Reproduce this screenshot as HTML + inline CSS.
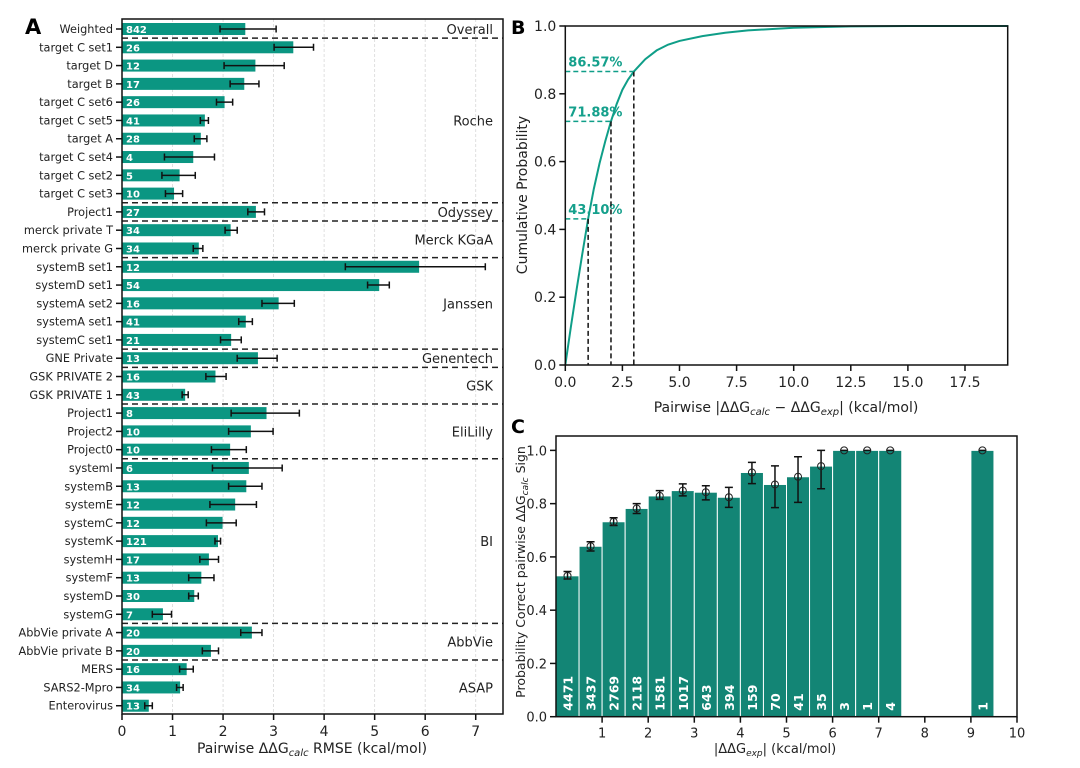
<!DOCTYPE html>
<html><head><meta charset="utf-8"><style>
html,body{margin:0;padding:0;background:#fff;width:1080px;height:768px;overflow:hidden}
svg{display:block;font-family:"DejaVu Sans","Liberation Sans",sans-serif}
</style></head><body>
<svg id="fig" width="1080" height="768" viewBox="0 0 1080 768" xmlns="http://www.w3.org/2000/svg"></svg>
<script>
// ---- Panel A data ----
const aLabels=["Weighted","target C set1","target D","target B","target C set6","target C set5","target A","target C set4","target C set2","target C set3","Project1","merck private T","merck private G","systemB set1","systemD set1","systemA set2","systemA set1","systemC set1","GNE Private","GSK PRIVATE 2","GSK PRIVATE 1","Project1","Project2","Project0","systemI","systemB","systemE","systemC","systemK","systemH","systemF","systemD","systemG","AbbVie private A","AbbVie private B","MERS","SARS2-Mpro","Enterovirus"];
const aValues=[2.44,3.39,2.64,2.42,2.03,1.64,1.56,1.41,1.14,1.03,2.65,2.15,1.52,5.88,5.09,3.10,2.45,2.16,2.69,1.85,1.25,2.86,2.55,2.14,2.51,2.46,2.24,1.99,1.90,1.72,1.57,1.43,0.81,2.57,1.76,1.28,1.15,0.53];
const aErrLo=[1.94,3.01,2.02,2.14,1.87,1.55,1.43,0.84,0.79,0.86,2.49,2.04,1.41,4.42,4.86,2.77,2.31,1.95,2.28,1.66,1.19,2.16,2.11,1.77,1.79,2.11,1.74,1.67,1.84,1.54,1.32,1.32,0.60,2.35,1.59,1.14,1.08,0.45];
const aErrHi=[3.05,3.79,3.21,2.71,2.19,1.71,1.68,1.83,1.45,1.20,2.82,2.28,1.60,7.19,5.29,3.41,2.58,2.36,3.07,2.06,1.31,3.51,2.99,2.46,3.17,2.77,2.66,2.26,1.95,1.91,1.82,1.51,0.98,2.77,1.91,1.41,1.21,0.60];
const aCounts=[842,26,12,17,26,41,28,4,5,10,27,34,34,12,54,16,41,21,13,16,43,8,10,10,6,13,12,12,121,17,13,30,7,20,20,16,34,13];
const aGroups=["Overall","Roche","Odyssey","Merck KGaA","Janssen","Genentech","GSK","EliLilly","BI","AbbVie","ASAP"];
const aGroupStart=[0,1,10,11,13,18,19,21,24,33,35];
const aGroupEnd=[0,9,10,12,17,18,20,23,32,34,37];
const aTicks=[0,1,2,3,4,5,6,7];
// ---- Panel B data ----
const bX=[0,0.25,0.5,0.75,1,1.25,1.5,1.75,2,2.25,2.5,2.75,3,3.5,4,4.5,5,6,7,8,10,12.5,15,19.4];
const bY=[0,0.115,0.225,0.33,0.431,0.52,0.595,0.66,0.7188,0.77,0.812,0.842,0.8657,0.902,0.928,0.945,0.956,0.970,0.980,0.987,0.995,0.999,1,1];
const bMarkX=[1,2,3];
const bMarkY=[0.431,0.7188,0.8657];
const bMarkLbl=["43.10%","71.88%","86.57%"];
const bXTicks=[0,2.5,5,7.5,10,12.5,15,17.5];
const bYTicks=[0,0.2,0.4,0.6,0.8,1.0];
// ---- Panel C data ----
const cCenters=[0.25,0.75,1.25,1.75,2.25,2.75,3.25,3.75,4.25,4.75,5.25,5.75,6.25,6.75,7.25,9.25];
const cValues=[0.529,0.640,0.732,0.782,0.829,0.849,0.843,0.824,0.917,0.872,0.901,0.941,1,1,1,1];
const cErrLo=[0.517,0.622,0.718,0.763,0.816,0.829,0.814,0.786,0.875,0.785,0.805,0.856,1,1,1,1];
const cErrHi=[0.545,0.657,0.747,0.800,0.849,0.874,0.867,0.861,0.955,0.942,0.976,1.0,1,1,1,1];
const cCounts=[4471,3437,2769,2118,1581,1017,643,394,159,70,41,35,3,1,4,1];
const cXTicks=[1,2,3,4,5,6,7,8,9,10];
const cYTicks=[0,0.2,0.4,0.6,0.8,1.0];

const NS="http://www.w3.org/2000/svg";
const svg=document.getElementById('fig');
function el(tag,attrs,parent,text){const e=document.createElementNS(NS,tag);for(const k in attrs)e.setAttribute(k,attrs[k]);if(text!==undefined)e.textContent=text;(parent||svg).appendChild(e);return e;}

// ===== Panel A =====
const A={l:122,r:503,t:19,b:714,xmax:7.54};
const ax=v=>A.l+v/A.xmax*(A.r-A.l);
const ay=i=>29+i*18.29;
const gA=el('g',{});


aTicks.forEach(t=>{if(t>0){const g=el('line',{x1:ax(t),x2:ax(t),y1:A.t,y2:A.b,stroke:'#d8d8d8','stroke-width':0.8,'stroke-dasharray':'3,2'},gA);}});
aValues.forEach((v,i)=>{
  const r=el('rect',{x:ax(0),y:ay(i)-6,width:ax(v)-ax(0),height:12,fill:'#0b9682'},gA);
  
  
  const n=el('text',{x:ax(0)+4,y:ay(i)+4,fill:'#fff','font-size':10,'font-weight':'bold'},gA,String(aCounts[i]));
  
  const e=el('path',{d:`M${ax(aErrLo[i])},${ay(i)}H${ax(aErrHi[i])}M${ax(aErrLo[i])},${ay(i)-3.5}v7M${ax(aErrHi[i])},${ay(i)-3.5}v7`,stroke:'#111','stroke-width':1.5,fill:'none'},gA);
  
  el('line',{x1:A.l-6,x2:A.l,y1:ay(i),y2:ay(i),stroke:'#111','stroke-width':1.5},gA);
  const lb=el('text',{x:A.l-9,y:ay(i)+4,'text-anchor':'end','font-size':11.3,fill:'#222'},gA,aLabels[i]);
  
});
aGroups.forEach((g,k)=>{
  if(k>0){const yy=ay(aGroupStart[k])-9.15;const s=el('line',{x1:A.l,x2:A.r,y1:yy,y2:yy,stroke:'#222','stroke-width':1.5,'stroke-dasharray':'6,4'},gA);}
  const yc=(ay(aGroupStart[k])+ay(aGroupEnd[k]))/2;
  const t=el('text',{x:A.r-10,y:yc+5,'text-anchor':'end','font-size':13,fill:'#222'},gA,g);
  
});
el('rect',{x:A.l,y:A.t,width:A.r-A.l,height:A.b-A.t,fill:'none',stroke:'#111','stroke-width':1.5},gA);
aTicks.forEach(t=>{el('line',{x1:ax(t),x2:ax(t),y1:A.b,y2:A.b+6,stroke:'#111','stroke-width':1.5},gA);const tx=el('text',{x:ax(t),y:A.b+22,'text-anchor':'middle','font-size':14,fill:'#222'},gA,String(t));});
const axA=el('text',{x:312,y:753,'text-anchor':'middle','font-size':14,fill:'#222'},gA);

axA.innerHTML='Pairwise ΔΔG<tspan font-size="10" font-style="italic" dy="3">calc</tspan><tspan dy="-3"> RMSE (kcal/mol)</tspan>';
const pa=el('text',{x:25,y:34,'font-size':21,'font-weight':'bold',fill:'#000'},gA,'A');

// ===== Panel B =====
const B={l:565.3,r:1007.7,t:26,b:365,xmax:19.37};
const bx=v=>B.l+v/B.xmax*(B.r-B.l);
const by=v=>B.b-v*(B.b-B.t);
const gB=el('g',{});


const cdf=el('polyline',{points:bX.map((x,i)=>bx(x)+','+by(bY[i])).join(' '),fill:'none',stroke:'#0f9e88','stroke-width':2},gB);

bMarkX.forEach((x,i)=>{
  const v=el('line',{x1:bx(x),x2:bx(x),y1:by(bMarkY[i]),y2:B.b,stroke:'#111','stroke-width':1.5,'stroke-dasharray':'5,3'},gB);
  
  const h=el('line',{x1:B.l,x2:bx(x),y1:by(bMarkY[i]),y2:by(bMarkY[i]),stroke:'#0f9e88','stroke-width':1.5,'stroke-dasharray':'5,3'},gB);
  
  const t=el('text',{x:B.l+3,y:by(bMarkY[i])-5,'font-size':13,'font-weight':'bold',fill:'#15a08c'},gB,bMarkLbl[i]);
  
});
el('rect',{x:B.l,y:B.t,width:B.r-B.l,height:B.b-B.t,fill:'none',stroke:'#111','stroke-width':1.5},gB);
bXTicks.forEach(t=>{el('line',{x1:bx(t),x2:bx(t),y1:B.b,y2:B.b+6,stroke:'#111','stroke-width':1.5},gB);const tx=el('text',{x:bx(t),y:B.b+22,'text-anchor':'middle','font-size':14,fill:'#222'},gB,t.toFixed(1));});
bYTicks.forEach(t=>{el('line',{x1:B.l-6,x2:B.l,y1:by(t),y2:by(t),stroke:'#111','stroke-width':1.5},gB);const tx=el('text',{x:B.l-9,y:by(t)+5,'text-anchor':'end','font-size':14,fill:'#222'},gB,t.toFixed(1));});
const bxt=el('text',{x:786,y:412,'text-anchor':'middle','font-size':14,fill:'#222'},gB);

bxt.innerHTML='Pairwise |ΔΔG<tspan font-size="10" font-style="italic" dy="3">calc</tspan><tspan dy="-3"> − ΔΔG</tspan><tspan font-size="10" font-style="italic" dy="3">exp</tspan><tspan dy="-3">| (kcal/mol)</tspan>';
const byt=el('text',{x:0,y:0,'text-anchor':'middle','font-size':14,fill:'#222',transform:'translate(527,195) rotate(-90)'},gB,'Cumulative Probability');

const pb=el('text',{x:511,y:34,'font-size':19,'font-weight':'bold',fill:'#000'},gB,'B');

// ===== Panel C =====
const C={l:556,r:1017,t:436,b:716.7,xmax:10,ymax:1.054};
const cx=v=>C.l+v/C.xmax*(C.r-C.l);
const cy=v=>C.b-v/C.ymax*(C.b-C.t);
const gC=el('g',{});


cCenters.forEach((c,i)=>{
  const r=el('rect',{x:cx(c-0.25),y:cy(cValues[i]),width:cx(0.5)-cx(0),height:cy(0)-cy(cValues[i]),fill:'#138575',stroke:'#fff','stroke-width':1},gC);
  
  const e=el('path',{d:`M${cx(c)},${cy(cErrLo[i])}V${cy(cErrHi[i])}M${cx(c)-4},${cy(cErrLo[i])}h8M${cx(c)-4},${cy(cErrHi[i])}h8`,stroke:'#111','stroke-width':1.5,fill:'none'},gC);
  
  const p=el('circle',{cx:cx(c),cy:cy(cValues[i]),r:3.5,fill:'none',stroke:'#222','stroke-width':1},gC);
  
  const t=el('text',{x:0,y:0,'font-size':12.5,'font-weight':'bold',fill:'#fff',transform:`translate(${cx(c)+5},${C.b-6}) rotate(-90)`},gC,String(cCounts[i]));
  
});
el('rect',{x:C.l,y:C.t,width:C.r-C.l,height:C.b-C.t,fill:'none',stroke:'#111','stroke-width':1.5},gC);
cXTicks.forEach(t=>{el('line',{x1:cx(t),x2:cx(t),y1:C.b,y2:C.b+6,stroke:'#111','stroke-width':1.5},gC);const tx=el('text',{x:cx(t),y:C.b+21,'text-anchor':'middle','font-size':13,fill:'#222'},gC,String(t));});
cYTicks.forEach(t=>{el('line',{x1:C.l-6,x2:C.l,y1:cy(t),y2:cy(t),stroke:'#111','stroke-width':1.5},gC);const tx=el('text',{x:C.l-9,y:cy(t)+5,'text-anchor':'end','font-size':13,fill:'#222'},gC,t.toFixed(1));});
const cxt=el('text',{x:775,y:753,'text-anchor':'middle','font-size':13,fill:'#222'},gC);

cxt.innerHTML='|ΔΔG<tspan font-size="9" font-style="italic" dy="3">exp</tspan><tspan dy="-3">| (kcal/mol)</tspan>';
const cyt=el('text',{x:0,y:0,'text-anchor':'middle','font-size':12.5,fill:'#222',transform:'translate(525,572) rotate(-90)'},gC);

cyt.innerHTML='Probability Correct pairwise ΔΔG<tspan font-size="9" font-style="italic" dy="3">calc</tspan><tspan dy="-3"> Sign</tspan>';
const pc=el('text',{x:511,y:433,'font-size':19,'font-weight':'bold',fill:'#000'},gC,'C');
</script>
</body></html>
